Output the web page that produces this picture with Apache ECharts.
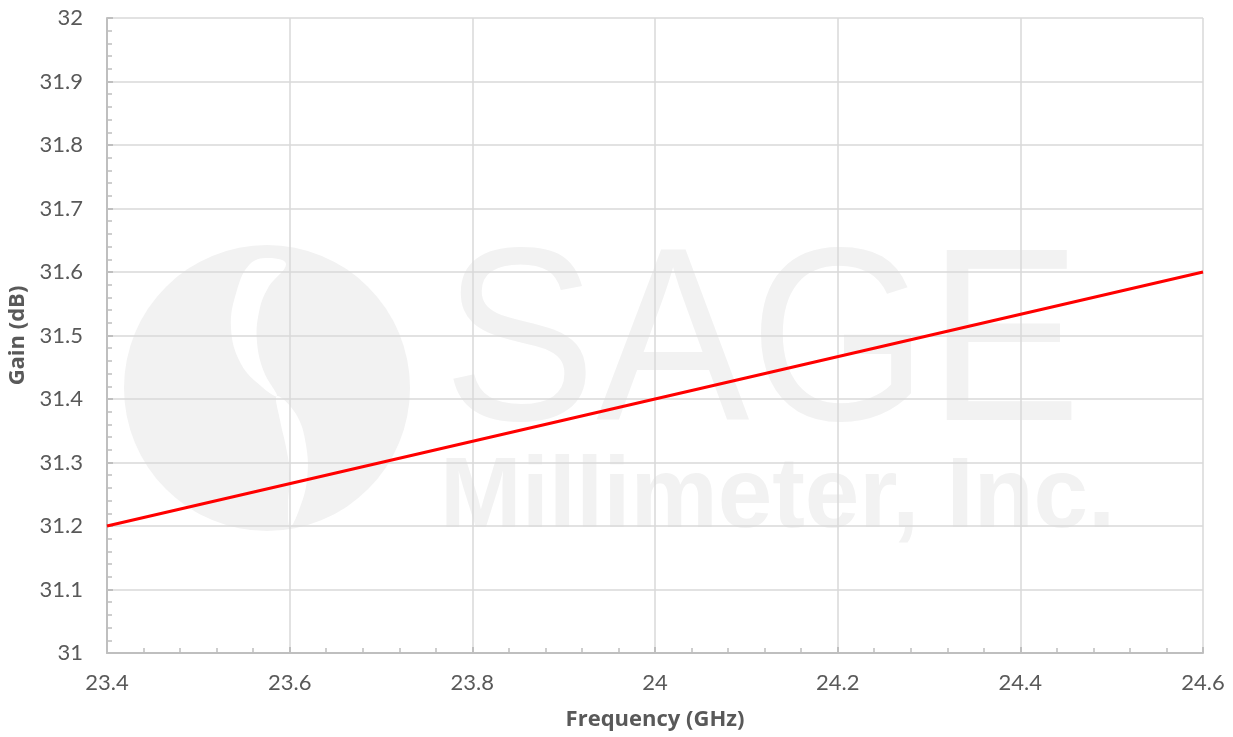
<!DOCTYPE html>
<html>
<head>
<meta charset="utf-8">
<script src="https://cdn.jsdelivr.net/npm/echarts@6/dist/echarts.min.js"></script>
<style>
html,body{margin:0;padding:0;background:#fff;}
#chart{width:1233px;height:737px;}
</style>
</head>
<body>
<div id="chart"></div>
<script>
// Data
const frequency = [23.4, 24.0, 24.6];   // GHz
const gain = [31.2, 31.4, 31.6];        // dB
const xTitle = 'Frequency (GHz)';
const yTitle = 'Gain (dB)';
const watermarkTop = 'SAGE';
const watermarkBottom = 'Millimeter, Inc.';

const fmt = v => String(parseFloat(v.toFixed(2)));
const FONT = 'Lato, "Open Sans", sans-serif';
const TFONT = '"Open Sans", Lato, sans-serif';
const WM = '#f2f2f2';

const chart = echarts.init(document.getElementById('chart'));
chart.setOption({
  animation: false,
  backgroundColor: '#fff',
  grid: {left: 107, right: 30, top: 18, bottom: 84, containLabel: false, outerBoundsMode: 'none'},
  graphic: [
    {type: 'circle', z: -10, shape: {cx: 267, cy: 388, r: 143}, style: {fill: WM}},
    {type: 'polygon', z: -9,
     shape: {smooth: 0.4, points: [[250,264],[237,290],[231,328],[241,364],[262,387],[277,396],
                                   [264,372],[257,342],[259,312],[268,288],[286,264],[268,258]]},
     style: {fill: '#fff'}},
    {type: 'polygon', z: -9,
     shape: {smooth: 0.4, points: [[277,396],[296,414],[306,445],[307,480],[299,510],[290,527],
                                   [288,505],[290,475],[286,447],[280,420]]},
     style: {fill: '#fff'}},
    {type: 'text', z: -10, x: 443, y: 475, scaleX: 0.93,
     style: {text: watermarkTop, fill: WM, font: '300 247px "Liberation Sans", Arial, sans-serif', verticalAlign: 'bottom'}},
    {type: 'text', z: -10, x: 440, y: 549, scaleX: 0.98,
     style: {text: watermarkBottom, fill: WM, font: 'bold 100px "Liberation Sans", Arial, sans-serif', verticalAlign: 'bottom'}}
  ],
  xAxis: {
    type: 'value', min: 23.4, max: 24.6, interval: 0.2,
    name: xTitle, nameLocation: 'middle', nameGap: 56,
    nameTextStyle: {color: '#595959', fontSize: 22, fontWeight: 'bold', fontFamily: TFONT},
    axisLine: {show: true, lineStyle: {color: '#bfbfbf', width: 2}},
    axisTick: {show: true, inside: true, length: 6, lineStyle: {color: '#bfbfbf', width: 2}},
    minorTick: {show: true, splitNumber: 5, length: 5, lineStyle: {color: '#bfbfbf', width: 1.5}},
    splitLine: {show: true, lineStyle: {color: '#d9d9d9', width: 1.5}},
    axisLabel: {color: '#595959', fontSize: 22, fontFamily: FONT, margin: 19, formatter: fmt}
  },
  yAxis: {
    type: 'value', min: 31, max: 32, interval: 0.1,
    name: yTitle, nameLocation: 'middle', nameGap: 76,
    nameTextStyle: {color: '#595959', fontSize: 22, fontWeight: 'bold', fontFamily: TFONT},
    axisLine: {show: true, lineStyle: {color: '#bfbfbf', width: 2}},
    axisTick: {show: true, inside: true, length: 6, lineStyle: {color: '#bfbfbf', width: 2}},
    minorTick: {show: true, splitNumber: 5, length: 5, lineStyle: {color: '#bfbfbf', width: 1.5}},
    splitLine: {show: true, lineStyle: {color: '#d9d9d9', width: 1.5}},
    axisLabel: {color: '#595959', fontSize: 22, fontFamily: FONT, margin: 24, formatter: fmt}
  },
  series: [{
    type: 'line',
    data: frequency.map((f, i) => [f, gain[i]]),
    showSymbol: false, symbol: 'none',
    lineStyle: {color: '#ff0000', width: 3},
    z: 5
  }]
});
</script>
</body>
</html>
